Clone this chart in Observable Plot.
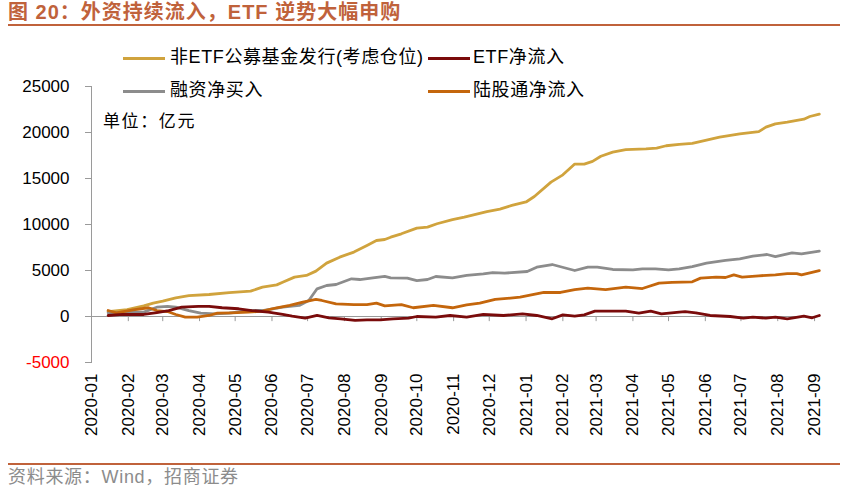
<!DOCTYPE html>
<html><head><meta charset="utf-8">
<script src="https://cdn.jsdelivr.net/npm/d3@7"></script>
<script src="https://cdn.jsdelivr.net/npm/@observablehq/plot@0.6"></script>
<style>
body{margin:0;background:#fff;}
#wrap{position:relative;width:863px;height:496px;overflow:hidden;font-family:"Liberation Sans","Noto Sans CJK SC",sans-serif;color:#000;}
#title{position:absolute;left:8px;top:0px;font-size:20px;font-weight:bold;color:#C0623B;white-space:nowrap;line-height:24px;letter-spacing:1px;}
.hr{position:absolute;left:8px;width:832px;background:#C0623B;}
#chart{position:absolute;left:0;top:30px;}
.lg{position:absolute;font-size:18px;line-height:20px;white-space:nowrap;letter-spacing:0.6px;}
.sw{position:absolute;height:3px;}
#unit{position:absolute;left:103px;top:112px;font-size:17px;line-height:20px;white-space:nowrap;letter-spacing:1.6px;}
#src{position:absolute;left:8px;top:466px;font-size:18px;line-height:22px;color:#8c8c8c;white-space:nowrap;letter-spacing:0.7px;}
</style></head>
<body>
<div id="wrap">
  <div id="title">图 20：外资持续流入，ETF 逆势大幅申购</div>
  <div class="hr" style="top:24px;height:2px;"></div>
  <div id="chart"></div>
  <div id="legend"></div>
  <div id="unit">单位：亿元</div>
  <div class="hr" style="top:463px;height:1.5px;"></div>
  <div id="src">资料来源：Wind，招商证券</div>
</div>
<script>
// ---- data (亿元) ----
const seriesNames = ["非ETF公募基金发行(考虑仓位)", "ETF净流入", "融资净买入", "陆股通净流入"];
const seriesColors = ["#D0A33D", "#7A0B0B", "#8C8C8C", "#C4660C"];
const monthLabels = ["2020-01","2020-02","2020-03","2020-04","2020-05","2020-06","2020-07","2020-08","2020-09","2020-10","2020-11","2020-12","2021-01","2021-02","2021-03","2021-04","2021-05","2021-06","2021-07","2021-08","2021-09"];
const yTicks = [-5000, 0, 5000, 10000, 15000, 20000, 25000];

const fundDates = ["2020-01-15","2020-01-31","2020-02-14","2020-02-22","2020-03-01","2020-03-12","2020-03-23","2020-04-09","2020-04-26","2020-05-14","2020-05-24","2020-06-05","2020-06-10","2020-06-20","2020-06-30","2020-07-08","2020-07-17","2020-07-28","2020-08-09","2020-08-20","2020-08-28","2020-09-04","2020-09-09","2020-09-18","2020-10-01","2020-10-10","2020-10-18","2020-10-31","2020-11-10","2020-11-29","2020-12-10","2020-12-20","2021-01-01","2021-01-08","2021-01-22","2021-02-01","2021-02-11","2021-02-19","2021-02-26","2021-03-05","2021-03-15","2021-03-26","2021-04-12","2021-04-21","2021-04-29","2021-05-10","2021-05-21","2021-06-02","2021-06-13","2021-06-30","2021-07-16","2021-07-22","2021-07-30","2021-08-09","2021-08-23","2021-08-28","2021-09-05"];
const fundValues = [520,750,1150,1450,1660,2030,2280,2390,2600,2750,3190,3440,3730,4280,4460,4930,5800,6450,7000,7720,8260,8370,8620,8990,9600,9710,10080,10540,10800,11410,11680,12070,12450,13040,14600,15400,16570,16570,16860,17420,17860,18140,18210,18300,18560,18720,18820,19160,19490,19850,20100,20580,20940,21120,21450,21740,22000];

const etfDates = ["2020-01-15","2020-01-27","2020-02-14","2020-02-25","2020-03-06","2020-03-17","2020-03-31","2020-04-09","2020-04-20","2020-05-04","2020-05-15","2020-05-29","2020-06-10","2020-06-18","2020-06-29","2020-07-09","2020-07-19","2020-07-29","2020-08-10","2020-08-20","2020-08-31","2020-09-11","2020-09-24","2020-10-01","2020-10-17","2020-10-29","2020-11-12","2020-11-26","2020-12-13","2020-12-29","2021-01-10","2021-01-23","2021-02-01","2021-02-11","2021-02-19","2021-02-28","2021-03-15","2021-03-26","2021-04-06","2021-04-16","2021-04-25","2021-05-10","2021-05-15","2021-05-24","2021-06-05","2021-06-22","2021-07-03","2021-07-11","2021-07-22","2021-07-30","2021-08-09","2021-08-23","2021-08-30","2021-09-05"];
const etfValues = [110,220,220,430,650,1010,1090,1090,950,840,650,470,220,30,-180,110,-140,-250,-430,-360,-360,-250,-180,0,-70,110,-70,220,110,290,110,-250,180,30,180,580,580,580,360,580,290,470,540,400,110,0,-180,-70,-180,-70,-250,30,-140,110];

const marginDates = ["2020-01-15","2020-01-31","2020-02-14","2020-02-25","2020-03-05","2020-03-12","2020-03-23","2020-04-02","2020-04-14","2020-04-26","2020-05-12","2020-05-24","2020-06-10","2020-06-24","2020-07-02","2020-07-09","2020-07-17","2020-07-25","2020-08-07","2020-08-14","2020-08-25","2020-09-04","2020-09-09","2020-09-23","2020-10-01","2020-10-10","2020-10-17","2020-10-31","2020-11-12","2020-11-26","2020-12-04","2020-12-14","2021-01-02","2021-01-10","2021-01-23","2021-02-11","2021-02-22","2021-03-02","2021-03-15","2021-04-01","2021-04-09","2021-04-20","2021-05-01","2021-05-10","2021-05-21","2021-06-02","2021-06-18","2021-06-30","2021-07-11","2021-07-23","2021-07-30","2021-08-13","2021-08-21","2021-09-05"];
const marginValues = [400,470,470,1010,1100,1010,650,360,290,360,650,650,1010,1200,1740,3010,3370,3480,4100,4020,4200,4350,4200,4170,3910,4020,4350,4200,4460,4640,4780,4710,4890,5360,5650,5000,5360,5360,5110,5070,5180,5180,5070,5180,5430,5800,6090,6270,6560,6740,6520,6920,6810,7100];

const hkDates = ["2020-01-15","2020-01-22","2020-02-05","2020-02-18","2020-02-25","2020-03-05","2020-03-12","2020-03-20","2020-03-30","2020-04-09","2020-04-16","2020-04-28","2020-05-12","2020-05-24","2020-06-05","2020-06-16","2020-06-27","2020-07-08","2020-07-13","2020-07-25","2020-08-09","2020-08-20","2020-08-28","2020-09-04","2020-09-18","2020-09-28","2020-10-15","2020-10-31","2020-11-12","2020-11-23","2020-12-06","2020-12-27","2021-01-16","2021-01-30","2021-02-11","2021-02-22","2021-03-09","2021-03-26","2021-04-09","2021-04-23","2021-05-04","2021-05-21","2021-05-28","2021-06-10","2021-06-18","2021-06-25","2021-07-02","2021-07-16","2021-07-30","2021-08-09","2021-08-17","2021-08-21","2021-09-05"];
const hkValues = [650,400,730,950,650,540,220,-70,-70,110,360,400,470,580,950,1200,1560,1850,1740,1380,1300,1300,1450,1160,1300,950,1200,950,1270,1450,1850,2100,2610,2610,2930,3080,2930,3190,3040,3620,3700,3770,4170,4280,4240,4530,4280,4420,4530,4670,4670,4530,4980];

// ---- build ----
const parse = d3.utcParse("%Y-%m-%d");
const mk = (ds, vs) => ds.map((d, i) => ({date: parse(d), value: vs[i]}));
const fund = mk(fundDates, fundValues);
const etf = mk(etfDates, etfValues);
const margin = mk(marginDates, marginValues);
const hk = mk(hkDates, hkValues);
const monthTicks = monthLabels.map(m => parse(m + "-01"));
const fmt = d3.utcFormat("%Y-%m");

const lineOpts = (c) => ({x: "date", y: "value", stroke: c, strokeWidth: 2.8, curve: "linear", strokeLinejoin: "round"});

const chart = Plot.plot({
  width: 863,
  height: 430,
  marginLeft: 91,
  marginRight: 43,
  marginTop: 56,
  marginBottom: 98,
  style: {fontFamily: '"Liberation Sans","Noto Sans CJK SC",sans-serif', fontSize: "17px", color: "#000", background: "transparent"},
  x: {type: "utc", domain: [parse("2020-01-01"), parse("2021-09-06")]},
  y: {domain: [-5000, 25000]},
  marks: [
    Plot.frame({anchor: "left", stroke: "#9a9a9a"}),
    Plot.ruleY([0], {stroke: "#9a9a9a", strokeWidth: 1.2}),
    Plot.ruleX(monthTicks, {x: d => d, y1: 0, y2: -560, stroke: "#9a9a9a"}),
    Plot.axisY({ticks: yTicks, tickSize: 6, tickPadding: 16, stroke: "#9a9a9a", fill: d => d < 0 ? "#FF0000" : "#000000", tickFormat: d => String(d), label: null}),
    Plot.axisX({anchor: "bottom", ticks: monthTicks, tickSize: 0, tickPadding: 11, tickRotate: -90, tickFormat: fmt, label: null}),
    Plot.line(fund, lineOpts(seriesColors[0])),
    Plot.line(margin, lineOpts(seriesColors[2])),
    Plot.line(hk, lineOpts(seriesColors[3])),
    Plot.line(etf, lineOpts(seriesColors[1]))
  ]
});
document.getElementById("chart").appendChild(chart);

// ---- legend ----
const legendPos = [
  {sx: 123, tx: 170, y: 58},
  {sx: 428, tx: 473, y: 58},
  {sx: 123, tx: 170, y: 91},
  {sx: 428, tx: 473, y: 91}
];
const lg = document.getElementById("legend");
seriesNames.forEach((name, i) => {
  const p = legendPos[i];
  const sw = document.createElement("div");
  sw.className = "sw";
  sw.style.left = p.sx + "px"; sw.style.top = (p.y - 1.5) + "px"; sw.style.width = "42px";
  sw.style.background = seriesColors[i];
  lg.appendChild(sw);
  const t = document.createElement("div");
  t.className = "lg";
  t.style.left = p.tx + "px"; t.style.top = (p.y - 11) + "px";
  t.textContent = name;
  lg.appendChild(t);
});
</script>
</body></html>
